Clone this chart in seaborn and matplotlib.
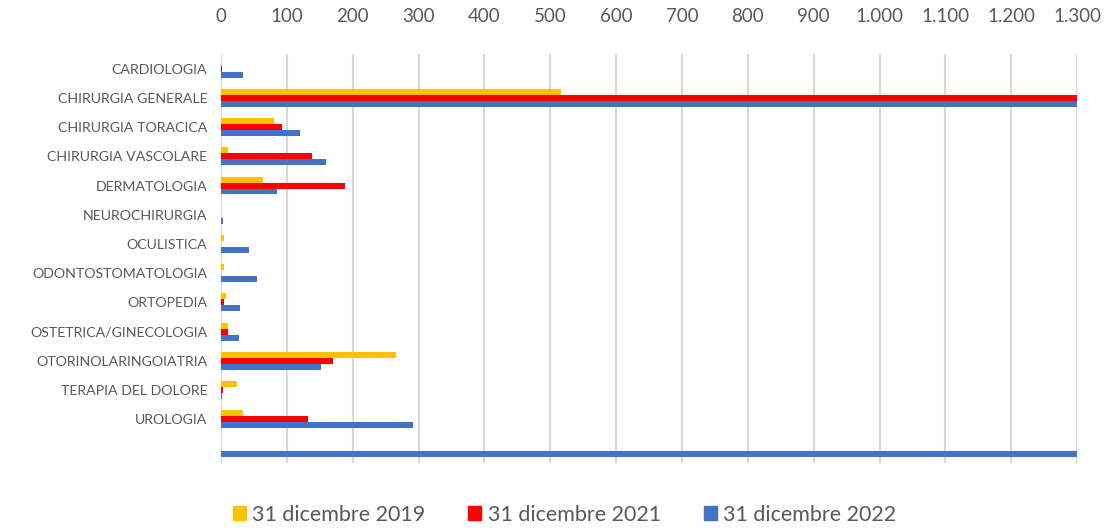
import pandas as pd
import matplotlib.pyplot as plt
import matplotlib.ticker as mticker
from matplotlib.patches import Patch
import seaborn as sns

# ── Dati ───────────────────────────────────────────────────────────────────────
reparti = [
    "CARDIOLOGIA", "CHIRURGIA GENERALE", "CHIRURGIA TORACICA", "CHIRURGIA VASCOLARE",
    "DERMATOLOGIA", "NEUROCHIRURGIA", "OCULISTICA", "ODONTOSTOMATOLOGIA",
    "ORTOPEDIA", "OSTETRICA/GINECOLOGIA", "OTORINOLARINGOIATRIA",
    "TERAPIA DEL DOLORE", "UROLOGIA", "",
]
serie = ["31 dicembre 2019", "31 dicembre 2021", "31 dicembre 2022"]
val_2019 = [0, 516, 80, 11, 63, 0, 5, 5, 8, 11, 266, 24, 34, 0]
val_2021 = [1, 1300, 92, 138, 188, 0, 0, 0, 5, 11, 170, 3, 132, 0]
val_2022 = [33, 1300, 120, 160, 85, 3, 42, 55, 28, 27, 152, 2, 292, 1300]

colori = {"31 dicembre 2019": "#FFC000", "31 dicembre 2021": "#FF0000", "31 dicembre 2022": "#4472C4"}

df = pd.DataFrame({
    "reparto": reparti * 3,
    "serie": [serie[0]] * len(reparti) + [serie[1]] * len(reparti) + [serie[2]] * len(reparti),
    "valore": val_2019 + val_2021 + val_2022,
})

# ── Grafico ────────────────────────────────────────────────────────────────────
sns.set_theme(style="white")
plt.rcParams["font.family"] = ["Lato", "DejaVu Sans"]
GRIGIO = "#595959"

fig = plt.figure(figsize=(11.07, 5.31), dpi=100)
ax = fig.add_axes([0.1997, 0.128, 0.7733, 0.77])

sns.barplot(data=df, y="reparto", x="valore", hue="serie", order=reparti,
            hue_order=serie, palette=colori, orient="h", width=0.61,
            saturation=1, linewidth=0, ax=ax, legend=False)

ax.set_xlim(0, 1300)
ax.set_ylim(len(reparti) - 0.5, -0.5)
ax.xaxis.set_major_locator(mticker.MultipleLocator(100))
ax.xaxis.set_major_formatter(mticker.FuncFormatter(lambda x, _: f"{x:,.0f}".replace(",", ".")))
ax.xaxis.tick_top()
ax.tick_params(axis="x", length=0, pad=21, labelsize=13.5, labelcolor=GRIGIO)
ax.tick_params(axis="y", length=0, pad=10, labelsize=10.2, labelcolor=GRIGIO)
ax.grid(axis="x", color="#D9D9D9", linewidth=1.5)
ax.set_axisbelow(True)
for s in ax.spines.values():
    s.set_visible(False)
ax.set_xlabel("")
ax.set_ylabel("")

handles = [Patch(color=colori[s], label=s) for s in serie]
fig.legend(handles=handles, loc="lower center", ncol=3, frameon=False,
           bbox_to_anchor=(0.51, -0.025), fontsize=15.5, labelcolor=GRIGIO,
           handlelength=0.6, handleheight=0.6, handletextpad=0.3, columnspacing=2.0)

plt.savefig("out.png", dpi=100)
plt.close()
